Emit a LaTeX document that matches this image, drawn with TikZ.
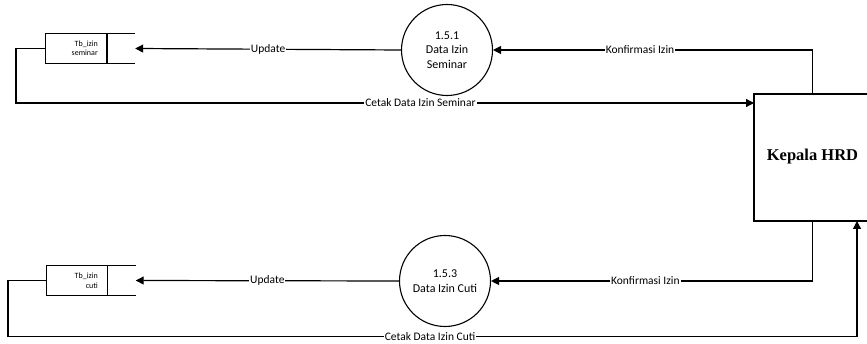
\documentclass[tikz,border=0pt]{standalone}
\usepackage{fontspec}
\setmainfont{Carlito}
\newfontfamily\hrdfont{Liberation Serif}
\usetikzlibrary{arrows.meta,calc}
\begin{document}
\begin{tikzpicture}[x=1pt,y=-1pt,
  flow/.style={line width=1.2pt,-{Triangle[length=8pt,width=8pt]}},
  lbl/.style={fill=white,inner sep=1pt,font=\fontsize{11.5}{12}\selectfont},
  proc/.style={circle,draw,line width=1.1pt,minimum size=91pt,inner sep=0pt,align=center,font=\fontsize{12}{14.5}\selectfont},
  ent/.style={rectangle,draw,line width=1.2pt,minimum width=117pt,minimum height=127pt,inner sep=0pt},
  storebox/.style={rectangle,draw=none,minimum width=89pt,minimum height=30pt,inner sep=0pt},
  storetxt/.style={align=right,inner sep=0pt,font=\fontsize{8}{9.5}\selectfont}]
\useasboundingbox (0,0) rectangle (867,344);
\clip (0,0) rectangle (867,344);
% entity
\node[ent] (hrd) at (812.5,157.5) {};
\node[font=\hrdfont\bfseries\fontsize{16.5}{19}\selectfont] (hrdt) at (812.5,157) {Kepala HRD};
% processes
\node[proc] (c1) at (447,50) {1.5.1\\Data Izin\\Seminar};
\node[proc] (c3) at (445,281) {1.5.3\\Data Izin Cuti};
% stores
\node[storebox] (s1) at (90.5,48.5) {};
\node[storebox] (s3) at (91,280.5) {};
\foreach \s in {s1,s3}{
  \draw[line width=1.2pt] (\s.north east) -- (\s.north west) -- (\s.south west) -- (\s.south east);
  \draw[line width=1.6pt] ($(\s.north west)+(61,0)$) -- ($(\s.south west)+(61,0)$);
}
\node[storetxt,anchor=east] (s1t) at (98,48.5) {Tb\_izin\\seminar};
\node[storetxt,anchor=east] (s3t) at (98,281) {Tb\_izin\\cuti};
% helper coordinates
\coordinate (h1) at (754,103);
\coordinate (h2) at (857,221);
% flows top
\draw[flow] (hrd.north) |- (c1.east) node[lbl,pos=0.77] {Konfirmasi Izin};
\draw[flow] (c1.west) -- (s1.east) node[lbl,midway] {Update};
\draw[flow] (s1.west) -- (16,48.5) |- (h1) node[lbl,pos=0.774] {Cetak Data Izin Seminar};
% flows bottom
\draw[flow] (hrd.south) |- (c3.east) node[lbl,pos=0.76] {Konfirmasi Izin};
\draw[flow] (c3.west) -- (s3.east) node[lbl,midway] {Update};
\draw[flow] (s3.west) -- (8,280.5) |- (857,336.5) -- (h2);
\node[lbl,inner ysep=0.5pt] (l6) at (430,336.5) {Cetak Data Izin Cuti};
\end{tikzpicture}
\end{document}
